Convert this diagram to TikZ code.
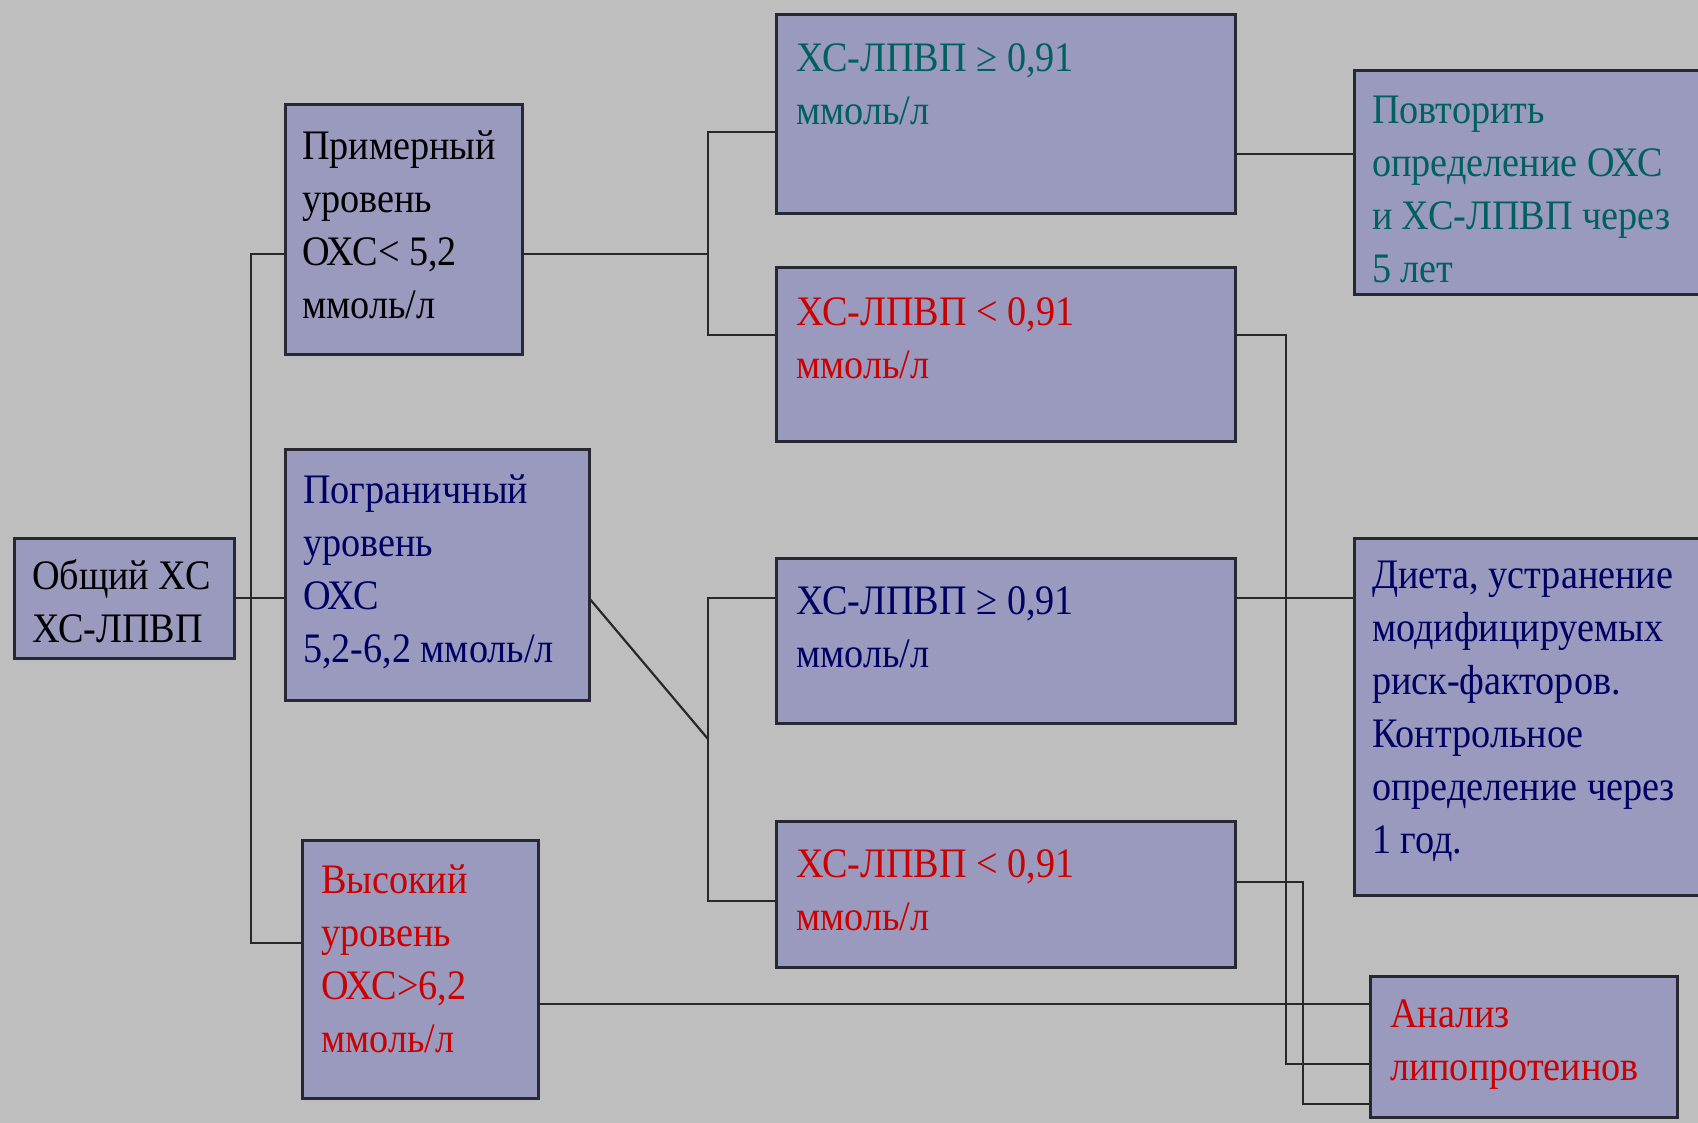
\documentclass[tikz,border=0pt]{standalone}
\usepackage{fontspec}
\setmainfont{Liberation Serif}[FakeStretch=0.91]
\usetikzlibrary{calc}
\definecolor{bg}{RGB}{190,190,190}
\definecolor{boxfill}{RGB}{154,154,190}
\definecolor{boxline}{RGB}{40,40,50}
\definecolor{wirec}{RGB}{40,40,40}
\definecolor{tealc}{RGB}{0,96,96}
\definecolor{navyc}{RGB}{0,0,100}
\definecolor{redc}{RGB}{205,0,0}
\tikzset{
  box/.style={draw=boxline, line width=3pt, fill=boxfill, anchor=north west, inner sep=0pt, outer sep=0pt},
  txt/.style={anchor=north west, inner sep=0pt, outer sep=0pt, align=left, font=\fontsize{42}{53}\selectfont},
  wire/.style={draw=wirec, line width=2.2pt}
}
\begin{document}
\begin{tikzpicture}[x=1pt,y=-1pt]
\clip (0,0) rectangle (1698,1123);
\fill[bg] (0,0) rectangle (1698,1123);
% boxes
\node[box, minimum width=220pt, minimum height=120pt] (obs) at (14,538) {};
\node[box, minimum width=237pt, minimum height=250pt] (prim) at (285,105) {};
\node[box, minimum width=304pt, minimum height=251pt] (pog) at (285,449) {};
\node[box, minimum width=236pt, minimum height=258pt] (vys) at (302,840) {};
\node[box, minimum width=459pt, minimum height=199pt] (h1) at (776,15) {};
\node[box, minimum width=459pt, minimum height=173pt] (h2) at (776,268) {};
\node[box, minimum width=459pt, minimum height=165pt] (h3) at (776,558) {};
\node[box, minimum width=459pt, minimum height=146pt] (h4) at (776,821) {};
\node[box, minimum width=400pt, minimum height=224pt] (pov) at (1354,71) {};
\node[box, minimum width=400pt, minimum height=357pt] (diet) at (1354,538) {};
\node[box, minimum width=307pt, minimum height=141pt] (anal) at (1370,976) {};
% texts (first baseline = offset + 37)
\node[txt] (tobs) at ($(obs.north west)+(18,14)$) {\strut Общий ХС\\ХС-ЛПВП};
\node[txt] (tprim) at ($(prim.north west)+(17,17)$) {\strut Примерный\\уровень\\ОХС< 5,2\\ммоль/л};
\node[txt, text=navyc] (tpog) at ($(pog.north west)+(18,17)$) {\strut Пограничный\\уровень\\ОХС\\5,2-6,2 ммоль/л};
\node[txt, text=redc] (tvys) at ($(vys.north west)+(19,16)$) {\strut Высокий\\уровень\\ОХС>6,2\\ммоль/л};
\node[txt, text=tealc] (th1) at ($(h1.north west)+(20,19)$) {\strut ХС-ЛПВП ≥ 0,91\\ммоль/л};
\node[txt, text=redc] (th2) at ($(h2.north west)+(20,20)$) {\strut ХС-ЛПВП < 0,91\\ммоль/л};
\node[txt, text=navyc] (th3) at ($(h3.north west)+(20,19)$) {\strut ХС-ЛПВП ≥ 0,91\\ммоль/л};
\node[txt, text=redc] (th4) at ($(h4.north west)+(20,19)$) {\strut ХС-ЛПВП < 0,91\\ммоль/л};
\node[txt, text=tealc] (tpov) at ($(pov.north west)+(18,15)$) {\strut Повторить\\определение ОХС\\и ХС-ЛПВП через\\5 лет};
\node[txt, text=navyc] (tdiet) at ($(diet.north west)+(18,13)$) {\strut Диета, устранение\\модифицируемых\\риск-факторов.\\Контрольное\\определение через\\1 год.};
\node[txt, text=redc] (tanal) at ($(anal.north west)+(20,14)$) {\strut Анализ\\липопротеинов};
% junction coordinates
\coordinate (ja) at (251,254);
\coordinate (jb) at (251,943);
\coordinate (jc) at (708,254);
\coordinate (jd) at (708,132);
\coordinate (je) at (708,335);
\coordinate (jf) at (708,739);
\coordinate (jg) at (708,598);
\coordinate (jh) at (708,901);
\coordinate (k1) at (1354,154);
\coordinate (k2) at (1286,335);
\coordinate (k3) at (1286,1064);
\coordinate (k4) at (1303,882);
\coordinate (k5) at (1303,1104);
\coordinate (k6) at (1370,1004);
% connectors
\draw[wire] (obs.east) -- (obs.east -| pog.west);
\draw[wire] (prim.west |- ja) -- (ja) -- (jb) -- (vys.west |- jb);
\draw[wire] (prim.east |- jc) -- (jc);
\draw[wire] (h1.west |- jd) -- (jd) -- (je) -- (h2.west |- je);
\draw[wire] (obs.east -| pog.east) -- (jf);
\draw[wire] (h3.west |- jg) -- (jg) -- (jh) -- (h4.west |- jh);
\draw[wire] (h1.east |- k1) -- (pov.west |- k1);
\draw[wire] (h2.east |- k2) -- (k2) -- (k3) -- (anal.west |- k3);
\draw[wire] (h3.east |- jg) -- (diet.west |- jg);
\draw[wire] (h4.east |- k4) -- (k4) -- (k5) -- (anal.west |- k5);
\draw[wire] (vys.east |- k6) -- (anal.west |- k6);
\end{tikzpicture}
\end{document}
